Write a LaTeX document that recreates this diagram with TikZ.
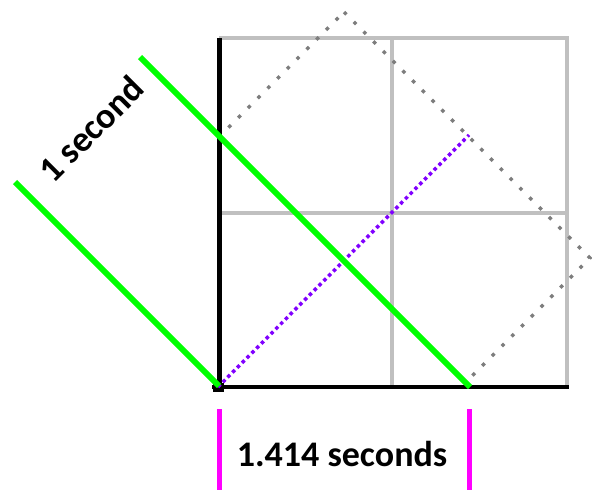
\documentclass[tikz,border=0pt]{standalone}
\usepackage{fontspec}
\setmainfont{Carlito}
\definecolor{gridgray}{RGB}{192,192,192}
\definecolor{dotgray}{RGB}{125,125,125}
\definecolor{wavegreen}{RGB}{0,255,0}
\definecolor{raypurple}{RGB}{128,0,255}
\definecolor{barmagenta}{RGB}{255,0,255}
\begin{document}
\begin{tikzpicture}[x=1pt,y=-1pt,
  gridline/.style={draw=gridgray,line width=3.5pt},
  axisline/.style={draw=black,line width=4.5pt},
  waveline/.style={draw=wavegreen,line width=6pt},
  rayline/.style={draw=raypurple,line width=3.5pt,dash pattern=on 3.5pt off 3.3pt},
  dotsquare/.style={draw=dotgray,line width=3.5pt,dash pattern=on 3.5pt off 10.3pt},
  barline/.style={draw=barmagenta,line width=5pt},
  label/.style={font=\bfseries\fontsize{36}{42}\selectfont,inner sep=0pt}]
\useasboundingbox (0,0) rectangle (592,490);
% grid corners
\coordinate (O) at (218,387);
\coordinate (TL) at (219,38);
\coordinate (TR) at (567,38);
\coordinate (BR) at (567,387);
\coordinate (MT) at (392,38);
\coordinate (MB) at (392,387);
\coordinate (ML) at (219,213);
\coordinate (MR) at (567,213);
% grey grid
\draw[gridline] (TL) -- (TR) -- (BR);
\draw[gridline] (MT) -- (MB);
\draw[gridline] (ML) -- (MR);
% rotated dotted square
\coordinate (RT) at (344,12);
\coordinate (RR) at (590,258);
\coordinate (RB) at (344,504);
\coordinate (RL) at (98,258);
\begin{scope}
  \clip (222,0) rectangle (600,382);
  \draw[dotsquare] (RT) -- (RR) -- (RB) -- (RL) -- cycle;
\end{scope}
% axes
\coordinate (AxTop) at (219.5,38);
\coordinate (AxLow) at (219.5,389);
\coordinate (AxLeft) at (212,387);
\coordinate (AxRight) at (569,387);
\draw[axisline] (AxTop) -- (AxLow);
\draw[axisline] (AxLeft) -- (AxRight);
\fill[black] (213,383) rectangle (224,392);
% purple ray
\coordinate (RayEnd) at (469,135);
\draw[rayline] (O) -- (RayEnd);
% green wavefronts
\coordinate (W1a) at (15,182);
\coordinate (W1b) at (219,386);
\coordinate (W2a) at (140,57);
\coordinate (W2b) at (470,387);
\draw[waveline] (W1a) -- (W1b);
\draw[waveline] (W2a) -- (W2b);
% magenta bars
\coordinate (B1a) at (219,409);
\coordinate (B1b) at (219,490);
\coordinate (B2a) at (469,409);
\coordinate (B2b) at (469,490);
\draw[barline] (B1a) -- (B1b);
\draw[barline] (B2a) -- (B2b);
% labels
\node[label,rotate=45] (onesec) at (91,129) {1 second};
\node[label,anchor=base] (sqrtsec) at (342,466) {1.414 seconds};
\end{tikzpicture}
\end{document}
